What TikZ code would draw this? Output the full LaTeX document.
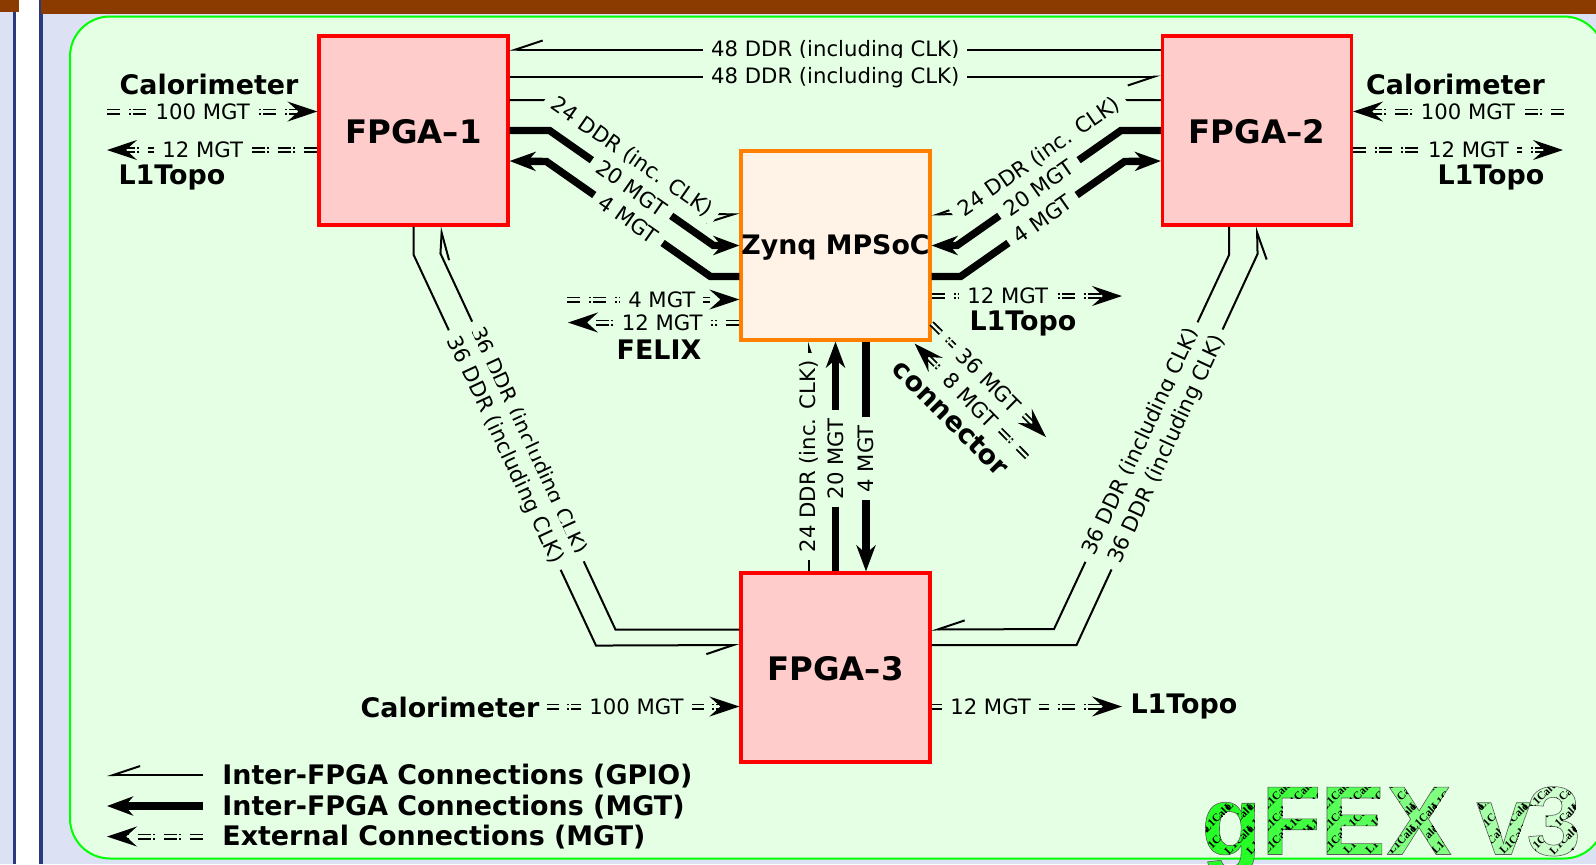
\documentclass[tikz,border=0pt]{standalone}
\usepackage{fontspec}
\setmainfont{DejaVu Sans}
\newfontfamily\tilefont{Liberation Serif}
\newfontfamily\gfexfont{Liberation Sans}
\usetikzlibrary{arrows.meta,calc}

\definecolor{pagelav}{HTML}{DCE1F4}
\definecolor{barbrown}{HTML}{8B3A00}
\definecolor{rulenavy}{HTML}{2A3A7E}
\definecolor{panelgreen}{HTML}{E5FFE5}
\definecolor{fpgapink}{HTML}{FFCCCC}
\definecolor{zynqcream}{HTML}{FFF3E8}

\newdimen\tilestep
\tilestep=11pt
\newcommand{\tiletext}{\foreach \tx in {-1,...,3}{\foreach \ty in {0,...,4}{%
  \rlap{\kern\tx\tilestep\raise\ty\tilestep\hbox{\rotatebox{45}{\tilefont\fontsize{5.6}{6}\selectfont\color{black}L1Calo}}}}}}
\newcommand{\gfexletter}[2]{\color{#2}%
  \special{x:gsave}\special{pdf:code 6 Tr 0.3 w 0.35 G}\rlap{#1}\special{pdf:code 0 Tr}\tiletext\special{x:grestore}}

\tikzset{
  fpgabox/.style={draw=red,fill=fpgapink,line width=1.55pt,minimum size=94.5pt,inner sep=0pt,
    text height=13.2pt,font=\fontsize{16.2}{18}\selectfont\bfseries},
  zynqbox/.style={draw=orange,fill=zynqcream,line width=1.55pt,minimum size=94.5pt,inner sep=0pt,
    text height=12.2pt,text depth=2.9pt,font=\fontsize{13.4}{16}\selectfont\bfseries},
  lbl/.style={fill=panelgreen,inner xsep=4pt,inner ysep=1.2pt,font=\fontsize{10.6}{12}\selectfont},
  lblcut/.style={lbl,inner ysep=4.8pt},
  sidelbl/.style={inner sep=0pt,font=\fontsize{13.45}{15}\selectfont\bfseries},
  gpio/.style={line width=1pt,-{Straight Barb[harpoon,swap,length=13.5pt,width=9pt,line width=1pt]}},
  mgtout/.style={line width=3.7pt},
  mgt/.style={mgtout,-{Stealth[length=13pt,width=9.5pt,inset=4pt]}},
  ext/.style={line width=.9pt,double=panelgreen,double distance=1.2pt,
    dash pattern=on 6.5pt off 4.5pt on 1pt off 1pt,
    -{Stealth[length=15pt,width=10pt,inset=5.5pt]}},
  gfex/.style={anchor=base west,inner sep=0pt,font=\gfexfont\fontsize{49}{50}\selectfont\bfseries}
}

\begin{document}
\begin{tikzpicture}[x=.5pt,y=-.5pt]
  \useasboundingbox (0,0) rectangle (1596,864);
  % page behind the panel
  \fill[pagelav] (0,0) rectangle (1596,864);
  \fill[white] (15.7,0) rectangle (39,864);
  \fill[rulenavy] (12.7,12) rectangle (15.7,864);
  \fill[rulenavy] (39,0) rectangle (42.7,864);
  \fill[barbrown] (0,0) rectangle (19,12);
  \fill[barbrown] (41,0) rectangle (1596,14);
  \draw[green,fill=panelgreen,line width=1pt,rounded corners=20pt] (70,16.5) rectangle (1604,858.5);

  % Boxes
  \node[fpgabox] (fpga1) at (413.5,130.5) {FPGA–1};
  \node[fpgabox] (fpga2) at (1257,130.5) {FPGA–2};
  \node[fpgabox] (fpga3) at (835.5,667.5) {FPGA–3};
  \node[zynqbox] (zynq) at (835.5,245.5) {Zynq MPSoC};

  % FPGA-1 to FPGA-2
  \draw[gpio] ($(fpga2.west)+(0,-81)$) -- node[lbl,yshift=-.5pt] (ddrtop) {48 DDR (including CLK)} ($(fpga1.east)+(0,-81)$);
  \draw[gpio] ($(fpga1.east)+(0,-54)$) -- node[lblcut,yshift=-.5pt] (ddrbot) {48 DDR (including CLK)} ($(fpga2.west)+(0,-54)$);

  % FPGA-1 to Zynq
  \draw[gpio] ($(fpga1.east)+(0,-30.5)$) -- ++(40,0) -- node[lbl,sloped] (ddrleft) {24 DDR (inc. CLK)} ++(164,114) -- ($(zynq.west)+(0,-31)$);
  \draw[mgt] (fpga1.east) -- ++(40,0) -- node[lbl,sloped] (mgtleft) {20 MGT} ++(164,115) -- (zynq.west);
  \draw[mgt] ($(zynq.west)+(0,31)$) -- ++(-29,0) -- node[lbl,sloped] (mgtlefttwo) {4 MGT} ++(-164,-115) -- ($(fpga1.east)+(0,30.5)$);

  % FPGA-2 to Zynq
  \draw[gpio] ($(fpga2.west)+(0,-30.5)$) -- ++(-40,0) -- node[lbl,sloped] (ddrright) {24 DDR (inc. CLK)} ++(-164,114) -- ($(zynq.east)+(0,-31)$);
  \draw[mgt] (fpga2.west) -- ++(-40,0) -- node[lbl,sloped] (mgtright) {20 MGT} ++(-164,115) -- (zynq.east);
  \draw[mgt] ($(zynq.east)+(0,31)$) -- ++(29,0) -- node[lbl,sloped] (mgtrighttwo) {4 MGT} ++(164,-115) -- ($(fpga2.west)+(0,30.5)$);

  % FPGA-3 to Zynq
  \draw[gpio] ($(fpga3.north)+(-26.5,0)$) -- node[lbl,sloped] (ddrmid) {24 DDR (inc. CLK)} ($(zynq.south)+(-26.5,0)$);
  \draw[mgt] (fpga3.north) -- node[lbl,sloped,pos=.49] (mgtmid) {20 MGT} (zynq.south);
  \draw[mgt] ($(zynq.south)+(30.5,0)$) -- node[lbl,rotate=90,pos=.51] (mgtmidtwo) {4 MGT} ($(fpga3.north)+(30.5,0)$);

  % FPGA-1 to FPGA-3
  \draw[gpio] ($(fpga3.west)+(0,-38)$) -- ++(-124,0) -- node[lbl,sloped] (ddrsw) {36 DDR (including CLK)} ++(-175,-376) -- ($(fpga1.south)+(28.5,0)$);
  \draw[gpio] (fpga1.south) -- ++(0,28) -- node[lblcut,sloped] (ddrswtwo) {36 DDR (including CLK)} ++(182.5,391) -- ($(fpga3.west)+(0,-22.5)$);

  % FPGA-2 to FPGA-3
  \draw[gpio] ($(fpga2.south)+(-28,0)$) -- ++(0,28.5) -- node[lbl,sloped] (ddrse) {36 DDR (including CLK)} ++(-175,374) -- ($(fpga3.east)+(0,-38)$);
  \draw[gpio] ($(fpga3.east)+(0,-22.5)$) -- ++(145,0) -- node[lblcut,sloped] (ddrsetwo) {36 DDR (including CLK)} ++(181,-391) -- (fpga2.south);

  % External, FPGA-1
  \coordinate (caloone) at (107,111.5);
  \coordinate (topoone) at (107,150);
  \node[sidelbl] (calotextone) at (209,84.5) {Calorimeter};
  \node[sidelbl] (topotextone) at (172,177) {L1Topo};
  \draw[ext] (caloone) -- node[lbl,pos=.455] (calombone) {100 MGT} ($(fpga1.west)+(0,-19)$);
  \draw[ext] ($(fpga1.west)+(0,19.5)$) -- node[lbl,pos=.545] (topombone) {12 MGT} (topoone);

  % External, FPGA-2
  \coordinate (calotwo) at (1564,111.5);
  \coordinate (topotwo) at (1563,150);
  \node[sidelbl] (calotexttwo) at (1455.5,84.5) {Calorimeter};
  \node[sidelbl] (topotexttwo) at (1491,177) {L1Topo};
  \draw[ext] (calotwo) -- node[lbl,pos=.455] (calombtwo) {100 MGT} ($(fpga2.east)+(0,-19)$);
  \draw[ext] ($(fpga2.east)+(0,19.5)$) -- node[lbl,pos=.55] (topombtwo) {12 MGT} (topotwo);

  % External, FPGA-3
  \coordinate (calothree) at (547,706.5);
  \coordinate (topothree) at (1122,706.5);
  \node[sidelbl] (calotextthree) at (450,707.5) {Calorimeter};
  \node[sidelbl] (topotextthree) at (1184,706.5) {L1Topo};
  \draw[ext,dash pattern=on 6pt off 4.1pt on 1pt off 1pt] (calothree) -- node[lbl,pos=.465] (calombthree) {100 MGT} ($(fpga3.west)+(0,39)$);
  \draw[ext] ($(fpga3.east)+(0,39)$) -- node[lbl,pos=.31] (topombthree) {12 MGT} (topothree);

  % External, Zynq
  \coordinate (felixin) at (567,299.5);
  \coordinate (felixout) at (568,322.5);
  \coordinate (topozynq) at (1122,296);
  \coordinate (connout) at (1046,437);
  \coordinate (connin) at (1027,457);
  \node[sidelbl] (felixtext) at (659,349.5) {FELIX};
  \node[sidelbl] (topotextzynq) at (1023,323) {L1Topo};
  \node[sidelbl,rotate=-45] (conntext) at (951,418) {connector};
  \draw[ext] (felixin) -- node[lbl,pos=.55] (felixmb) {4 MGT} ($(zynq.west)+(0,54)$);
  \draw[ext] ($(zynq.west)+(0,77)$) -- node[lbl,pos=.45] (felixmbtwo) {12 MGT} (felixout);
  \draw[ext] ($(zynq.east)+(0,50.5)$) -- node[lbl,pos=.4] (topombzynq) {12 MGT} (topozynq);
  \draw[ext] ($(zynq.south east)+(0,-18)$) -- node[lbl,sloped] (connmbout) {36 MGT} (connout);
  \draw[ext] (connin) -- node[lbl,sloped] (connmbin) {8 MGT} ($(zynq.south east)+(-17,2)$);

  % Legend
  \coordinate (keytipa) at (107,775);
  \coordinate (keytipb) at (107,806);
  \coordinate (keytipc) at (107,836.5);
  \node[sidelbl,anchor=west] (keya) at (222,776) {Inter-FPGA Connections (GPIO)};
  \node[sidelbl,anchor=west] (keyb) at (222,807) {Inter-FPGA Connections (MGT)};
  \node[sidelbl,anchor=west] (keyc) at (222,837.5) {External Connections (MGT)};
  \draw[gpio] (keytipa -| 203,0) -- (keytipa);
  \draw[mgt] (keytipb -| 203,0) -- (keytipb);
  \draw[ext] (keytipc -| 203,0) -- (keytipc);

  % gFEX v3
  \node[gfex] (gfexg) at (1200,855) {\gfexletter{g}{green!85!white}};
  \node[gfex] (gfexf) at (1260,854.5) {\gfexletter{F}{green!75!white}};
  \node[gfex] (gfexe) at (1319,854.5) {\gfexletter{E}{green!65!white}};
  \node[gfex] (gfexx) at (1385,854.5) {\gfexletter{X}{green!50!white}};
  \node[gfex] (gfexv) at (1475,854.5) {\gfexletter{v}{green!35!white}};
  \node[gfex] (gfexthree) at (1525,855) {\gfexletter{3}{green!20!white}};
\end{tikzpicture}
\end{document}
